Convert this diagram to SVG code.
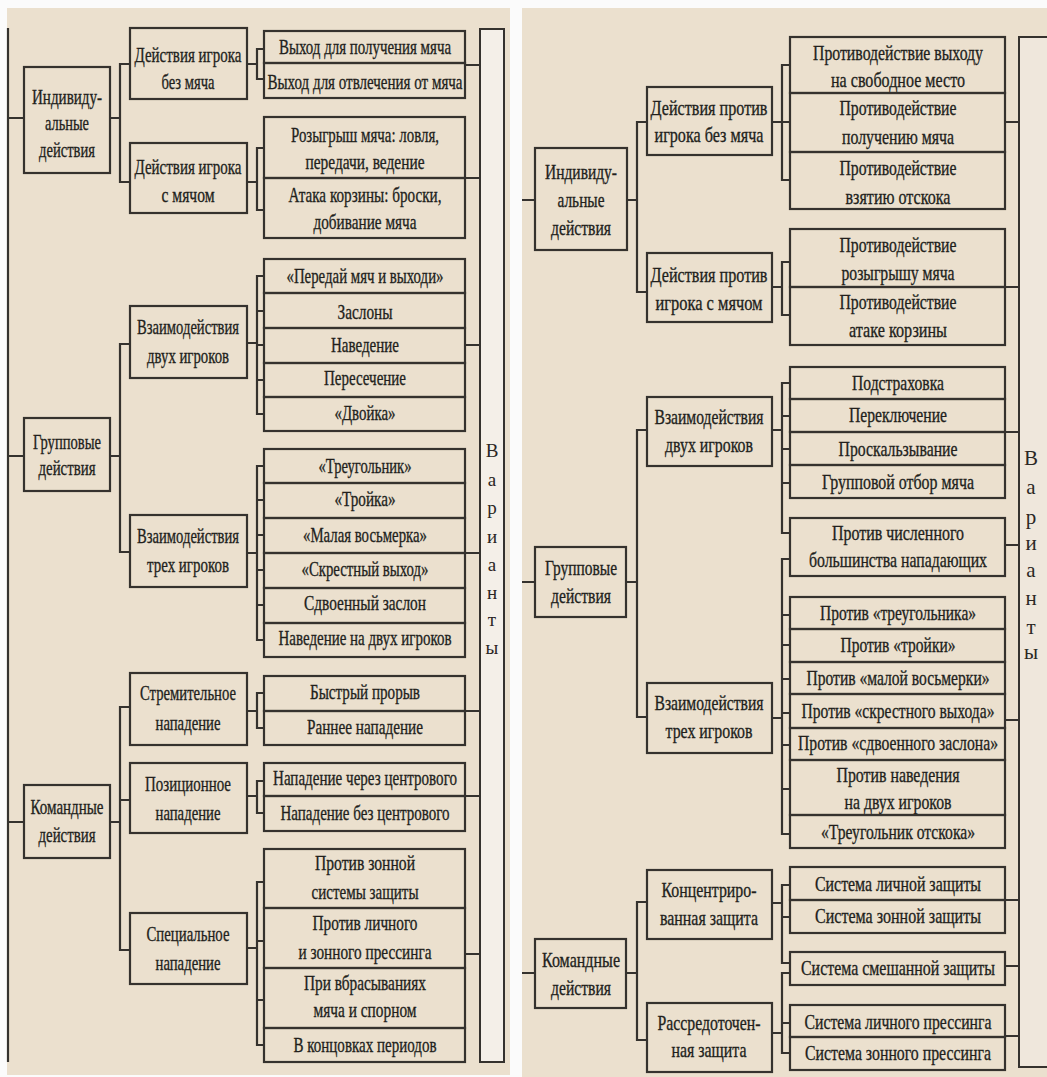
<svg xmlns="http://www.w3.org/2000/svg" width="1047" height="1077" viewBox="0 0 1047 1077">
<style>
.paper{fill:#ebe0ce}
.box{fill:none;stroke:#35322e;stroke-width:2.2}
.c{fill:none;stroke:#35322e;stroke-width:2.2}
.t{font-family:"Liberation Serif","Times New Roman",serif;font-size:22px;text-anchor:middle;fill:#221f1c;stroke:#221f1c;stroke-width:0.35}
.v{font-family:"Liberation Serif","Times New Roman",serif;text-anchor:middle;fill:#2b2724}
</style>
<rect x="0" y="0" width="1047" height="1077" fill="#fbfbfb"/>
<rect class="paper" x="7" y="8" width="503" height="1067"/>
<rect class="paper" x="522" y="8" width="525" height="1069"/>

<g id="connectors">
<path class="c" d="M8 28 V1062 M8 118 H24 M8 456 H24 M8 822 H24"/>
<path class="c" d="M110 118 H120 M130 64 H120 V182 H130"/>
<path class="c" d="M110 456 H120 M130 344 H120 V552 H130"/>
<path class="c" d="M110 822 H120 M130 707 H120 V950 H130 M120 800 H130"/>
<path class="c" d="M247 64 H257 M264 49 H257 V79 H264"/>
<path class="c" d="M247 182 H257 M264 148 H257 V210 H264"/>
<path class="c" d="M247 343 H257 M264 276 H257 V414 H264 M257 311 H264 M257 345 H264 M257 380 H264"/>
<path class="c" d="M247 553 H257 M264 466 H257 V640 H264 M257 500 H264 M257 535 H264 M257 570 H264 M257 605 H264"/>
<path class="c" d="M247 711 H257 M264 693 H257 V728 H264"/>
<path class="c" d="M247 796 H257 M264 781 H257 V813 H264"/>
<path class="c" d="M247 948 H257 M264 882 H257 V1045 H264 M257 941 H264 M257 1000 H264"/>
<path class="c" d="M465 65 H480 M465 178 H480 M465 345 H480 M465 553 H480 M465 711 H480 M465 796 H480 M465 954 H480"/>
<path class="c" d="M522 200 H535 M522 582 H535 M522 973 H535"/>
<path class="c" d="M627 200 H637 M647 122 H637 V292 H647"/>
<path class="c" d="M626 582 H637 M647 430 H637 V717 H647"/>
<path class="c" d="M626 973 H637 M647 902 H637 V1040 H647"/>
<path class="c" d="M772 122 H782 M790 65 H782 V180 H790 M782 122 H790"/>
<path class="c" d="M772 287 H782 M790 262 H782 V315 H790"/>
<path class="c" d="M772 430 H782 M790 383 H782 V533 H790 M782 416 H790 M782 449 H790 M782 483 H790"/>
<path class="c" d="M772 718 H782 M790 559 H782 V834 H790 M782 615 H790 M782 645 H790 M782 679 H790 M782 713 H790 M782 745 H790 M782 789 H790"/>
<path class="c" d="M772 903 H782 M790 885 H782 V963 H790 M782 917 H790"/>
<path class="c" d="M772 1033 H782 M790 973 H782 V1053 H790 M782 1023 H790"/>
<path class="c" d="M1005 122 H1019 M1005 287 H1019 M1005 432 H1019 M1005 545 H1019 M1005 720 H1019 M1005 900 H1019 M1005 966 H1019 M1005 1036 H1019"/>
</g>

<!-- LEFT PANEL -->
<g id="L_variants">
<rect x="480" y="29" width="24" height="1033" fill="#f4efe8" stroke="#35322e" stroke-width="2"/>
<text class="v" font-size="19" x="492" y="457"><tspan x="492" y="457">В</tspan><tspan x="492" y="486">а</tspan><tspan x="492" y="514">р</tspan><tspan x="492" y="543">и</tspan><tspan x="492" y="571">а</tspan><tspan x="492" y="599">н</tspan><tspan x="492" y="626">т</tspan><tspan x="492" y="654">ы</tspan></text>
</g>
<g id="L_ind"><rect class="box" x="24" y="67" width="86" height="106"/>
<text class="t" x="67" y="104" textLength="70" lengthAdjust="spacingAndGlyphs">Индивиду-</text>
<text class="t" x="67" y="130" textLength="44" lengthAdjust="spacingAndGlyphs">альные</text>
<text class="t" x="67" y="157" textLength="56" lengthAdjust="spacingAndGlyphs">действия</text></g>
<g id="L_grp"><rect class="box" x="24" y="418" width="86" height="73"/>
<text class="t" x="67" y="449" textLength="68" lengthAdjust="spacingAndGlyphs">Групповые</text>
<text class="t" x="67" y="475" textLength="57" lengthAdjust="spacingAndGlyphs">действия</text></g>
<g id="L_cmd"><rect class="box" x="24" y="785" width="86" height="73"/>
<text class="t" x="67" y="814" textLength="73" lengthAdjust="spacingAndGlyphs">Командные</text>
<text class="t" x="67" y="842" textLength="57" lengthAdjust="spacingAndGlyphs">действия</text></g>

<g id="L_m1"><rect class="box" x="130" y="28" width="117" height="71"/>
<text class="t" x="188" y="62" textLength="107" lengthAdjust="spacingAndGlyphs">Действия игрока</text>
<text class="t" x="188" y="89" textLength="53" lengthAdjust="spacingAndGlyphs">без мяча</text></g>
<g id="L_m2"><rect class="box" x="130" y="143" width="117" height="70"/>
<text class="t" x="188" y="174" textLength="107" lengthAdjust="spacingAndGlyphs">Действия игрока</text>
<text class="t" x="188" y="202" textLength="53" lengthAdjust="spacingAndGlyphs">с мячом</text></g>
<g id="L_m3"><rect class="box" x="130" y="306" width="117" height="72"/>
<text class="t" x="188" y="334" textLength="102" lengthAdjust="spacingAndGlyphs">Взаимодействия</text>
<text class="t" x="188" y="363" textLength="82" lengthAdjust="spacingAndGlyphs">двух игроков</text></g>
<g id="L_m4"><rect class="box" x="130" y="515" width="117" height="72"/>
<text class="t" x="188" y="543" textLength="102" lengthAdjust="spacingAndGlyphs">Взаимодействия</text>
<text class="t" x="188" y="572" textLength="82" lengthAdjust="spacingAndGlyphs">трех игроков</text></g>
<g id="L_m5"><rect class="box" x="130" y="673" width="117" height="72"/>
<text class="t" x="188" y="700" textLength="96" lengthAdjust="spacingAndGlyphs">Стремительное</text>
<text class="t" x="188" y="730" textLength="65" lengthAdjust="spacingAndGlyphs">нападение</text></g>
<g id="L_m6"><rect class="box" x="130" y="763" width="117" height="70"/>
<text class="t" x="188" y="791" textLength="86" lengthAdjust="spacingAndGlyphs">Позиционное</text>
<text class="t" x="188" y="820" textLength="65" lengthAdjust="spacingAndGlyphs">нападение</text></g>
<g id="L_m7"><rect class="box" x="130" y="913" width="117" height="71"/>
<text class="t" x="188" y="941" textLength="83" lengthAdjust="spacingAndGlyphs">Специальное</text>
<text class="t" x="188" y="970" textLength="65" lengthAdjust="spacingAndGlyphs">нападение</text></g>

<g id="L_l1"><rect class="box" x="264" y="31" width="201" height="32"/>
<text class="t" x="365" y="54" textLength="172" lengthAdjust="spacingAndGlyphs">Выход для получения мяча</text></g>
<g id="L_l2"><rect class="box" x="264" y="63" width="201" height="35"/>
<text class="t" x="365" y="89" textLength="195" lengthAdjust="spacingAndGlyphs">Выход для отвлечения от мяча</text></g>
<g id="L_l3"><rect class="box" x="264" y="117" width="201" height="61"/>
<text class="t" x="365" y="142" textLength="148" lengthAdjust="spacingAndGlyphs">Розыгрыш мяча: ловля,</text>
<text class="t" x="365" y="169" textLength="119" lengthAdjust="spacingAndGlyphs">передачи, ведение</text></g>
<g id="L_l4"><rect class="box" x="264" y="178" width="201" height="60"/>
<text class="t" x="365" y="202" textLength="153" lengthAdjust="spacingAndGlyphs">Атака корзины: броски,</text>
<text class="t" x="365" y="229" textLength="103" lengthAdjust="spacingAndGlyphs">добивание мяча</text></g>
<g id="L_l5"><rect class="box" x="264" y="259" width="201" height="34"/>
<text class="t" x="365" y="283" textLength="157" lengthAdjust="spacingAndGlyphs">«Передай мяч и выходи»</text></g>
<g id="L_l6"><rect class="box" x="264" y="293" width="201" height="35"/>
<text class="t" x="365" y="319" textLength="55" lengthAdjust="spacingAndGlyphs">Заслоны</text></g>
<g id="L_l7"><rect class="box" x="264" y="328" width="201" height="35"/>
<text class="t" x="365" y="352" textLength="68" lengthAdjust="spacingAndGlyphs">Наведение</text></g>
<g id="L_l8"><rect class="box" x="264" y="363" width="201" height="34"/>
<text class="t" x="365" y="385" textLength="82" lengthAdjust="spacingAndGlyphs">Пересечение</text></g>
<g id="L_l9"><rect class="box" x="264" y="397" width="201" height="34"/>
<text class="t" x="365" y="420" textLength="61" lengthAdjust="spacingAndGlyphs">«Двойка»</text></g>
<g id="L_l10"><rect class="box" x="264" y="449" width="201" height="34"/>
<text class="t" x="365" y="473" textLength="93" lengthAdjust="spacingAndGlyphs">«Треугольник»</text></g>
<g id="L_l11"><rect class="box" x="264" y="483" width="201" height="35"/>
<text class="t" x="365" y="506" textLength="61" lengthAdjust="spacingAndGlyphs">«Тройка»</text></g>
<g id="L_l12"><rect class="box" x="264" y="518" width="201" height="35"/>
<text class="t" x="365" y="542" textLength="124" lengthAdjust="spacingAndGlyphs">«Малая восьмерка»</text></g>
<g id="L_l13"><rect class="box" x="264" y="553" width="201" height="35"/>
<text class="t" x="365" y="576" textLength="127" lengthAdjust="spacingAndGlyphs">«Скрестный выход»</text></g>
<g id="L_l14"><rect class="box" x="264" y="588" width="201" height="35"/>
<text class="t" x="365" y="610" textLength="122" lengthAdjust="spacingAndGlyphs">Сдвоенный заслон</text></g>
<g id="L_l15"><rect class="box" x="264" y="623" width="201" height="34"/>
<text class="t" x="365" y="645" textLength="173" lengthAdjust="spacingAndGlyphs">Наведение на двух игроков</text></g>
<g id="L_l16"><rect class="box" x="264" y="676" width="201" height="35"/>
<text class="t" x="365" y="699" textLength="110" lengthAdjust="spacingAndGlyphs">Быстрый прорыв</text></g>
<g id="L_l17"><rect class="box" x="264" y="711" width="201" height="34"/>
<text class="t" x="365" y="734" textLength="116" lengthAdjust="spacingAndGlyphs">Раннее нападение</text></g>
<g id="L_l18"><rect class="box" x="264" y="763" width="201" height="33"/>
<text class="t" x="365" y="785" textLength="184" lengthAdjust="spacingAndGlyphs">Нападение через центрового</text></g>
<g id="L_l19"><rect class="box" x="264" y="796" width="201" height="35"/>
<text class="t" x="365" y="820" textLength="169" lengthAdjust="spacingAndGlyphs">Нападение без центрового</text></g>
<g id="L_l20"><rect class="box" x="264" y="849" width="201" height="59"/>
<text class="t" x="365" y="870" textLength="100" lengthAdjust="spacingAndGlyphs">Против зонной</text>
<text class="t" x="365" y="899" textLength="107" lengthAdjust="spacingAndGlyphs">системы защиты</text></g>
<g id="L_l21"><rect class="box" x="264" y="908" width="201" height="60"/>
<text class="t" x="365" y="930" textLength="105" lengthAdjust="spacingAndGlyphs">Против личного</text>
<text class="t" x="365" y="959" textLength="133" lengthAdjust="spacingAndGlyphs">и зонного прессинга</text></g>
<g id="L_l22"><rect class="box" x="264" y="968" width="201" height="60"/>
<text class="t" x="365" y="990" textLength="122" lengthAdjust="spacingAndGlyphs">При вбрасываниях</text>
<text class="t" x="365" y="1017" textLength="103" lengthAdjust="spacingAndGlyphs">мяча и спорном</text></g>
<g id="L_l23"><rect class="box" x="264" y="1028" width="201" height="34"/>
<text class="t" x="365" y="1052" textLength="143" lengthAdjust="spacingAndGlyphs">В концовках периодов</text></g>

<!-- RIGHT PANEL -->
<g id="R_variants">
<path d="M1050 37 H1019 V1067 H1050" fill="#efe7dc" stroke="#35322e" stroke-width="2"/>
<text class="v" font-size="21" x="1031" y="465"><tspan x="1031" y="465">В</tspan><tspan x="1031" y="494">а</tspan><tspan x="1031" y="524">р</tspan><tspan x="1031" y="550">и</tspan><tspan x="1031" y="577">а</tspan><tspan x="1031" y="605">н</tspan><tspan x="1031" y="634">т</tspan><tspan x="1031" y="659">ы</tspan></text>
</g>
<g id="R_ind"><rect class="box" x="535" y="148" width="92" height="102"/>
<text class="t" x="581" y="179" textLength="72" lengthAdjust="spacingAndGlyphs">Индивиду-</text>
<text class="t" x="581" y="207" textLength="47" lengthAdjust="spacingAndGlyphs">альные</text>
<text class="t" x="581" y="235" textLength="60" lengthAdjust="spacingAndGlyphs">действия</text></g>
<g id="R_grp"><rect class="box" x="535" y="547" width="91" height="70"/>
<text class="t" x="581" y="575" textLength="72" lengthAdjust="spacingAndGlyphs">Групповые</text>
<text class="t" x="581" y="603" textLength="60" lengthAdjust="spacingAndGlyphs">действия</text></g>
<g id="R_cmd"><rect class="box" x="535" y="939" width="91" height="69"/>
<text class="t" x="581" y="967" textLength="78" lengthAdjust="spacingAndGlyphs">Командные</text>
<text class="t" x="581" y="995" textLength="60" lengthAdjust="spacingAndGlyphs">действия</text></g>

<g id="R_m1"><rect class="box" x="647" y="87" width="125" height="68"/>
<text class="t" x="709" y="115" textLength="117" lengthAdjust="spacingAndGlyphs">Действия против</text>
<text class="t" x="709" y="142" textLength="109" lengthAdjust="spacingAndGlyphs">игрока без мяча</text></g>
<g id="R_m2"><rect class="box" x="647" y="253" width="125" height="69"/>
<text class="t" x="709" y="282" textLength="117" lengthAdjust="spacingAndGlyphs">Действия против</text>
<text class="t" x="709" y="310" textLength="107" lengthAdjust="spacingAndGlyphs">игрока с мячом</text></g>
<g id="R_m3"><rect class="box" x="647" y="397" width="125" height="69"/>
<text class="t" x="709" y="424" textLength="109" lengthAdjust="spacingAndGlyphs">Взаимодействия</text>
<text class="t" x="709" y="452" textLength="88" lengthAdjust="spacingAndGlyphs">двух игроков</text></g>
<g id="R_m4"><rect class="box" x="647" y="683" width="125" height="70"/>
<text class="t" x="709" y="710" textLength="109" lengthAdjust="spacingAndGlyphs">Взаимодействия</text>
<text class="t" x="709" y="738" textLength="87" lengthAdjust="spacingAndGlyphs">трех игроков</text></g>
<g id="R_m5"><rect class="box" x="647" y="870" width="125" height="69"/>
<text class="t" x="709" y="897" textLength="95" lengthAdjust="spacingAndGlyphs">Концентриро-</text>
<text class="t" x="709" y="925" textLength="98" lengthAdjust="spacingAndGlyphs">ванная защита</text></g>
<g id="R_m6"><rect class="box" x="647" y="1003" width="125" height="69"/>
<text class="t" x="709" y="1030" textLength="103" lengthAdjust="spacingAndGlyphs">Рассредоточен-</text>
<text class="t" x="709" y="1057" textLength="75" lengthAdjust="spacingAndGlyphs">ная защита</text></g>

<g id="R_l1"><rect class="box" x="790" y="37" width="215" height="56"/>
<text class="t" x="898" y="60" textLength="170" lengthAdjust="spacingAndGlyphs">Противодействие выходу</text>
<text class="t" x="898" y="87" textLength="134" lengthAdjust="spacingAndGlyphs">на свободное место</text></g>
<g id="R_l2"><rect class="box" x="790" y="93" width="215" height="59"/>
<text class="t" x="898" y="115" textLength="117" lengthAdjust="spacingAndGlyphs">Противодействие</text>
<text class="t" x="898" y="144" textLength="112" lengthAdjust="spacingAndGlyphs">получению мяча</text></g>
<g id="R_l3"><rect class="box" x="790" y="152" width="215" height="57"/>
<text class="t" x="898" y="175" textLength="117" lengthAdjust="spacingAndGlyphs">Противодействие</text>
<text class="t" x="898" y="204" textLength="105" lengthAdjust="spacingAndGlyphs">взятию отскока</text></g>
<g id="R_l4"><rect class="box" x="790" y="229" width="215" height="58"/>
<text class="t" x="898" y="252" textLength="117" lengthAdjust="spacingAndGlyphs">Противодействие</text>
<text class="t" x="898" y="280" textLength="113" lengthAdjust="spacingAndGlyphs">розыгрышу мяча</text></g>
<g id="R_l5"><rect class="box" x="790" y="287" width="215" height="58"/>
<text class="t" x="898" y="309" textLength="117" lengthAdjust="spacingAndGlyphs">Противодействие</text>
<text class="t" x="898" y="337" textLength="98" lengthAdjust="spacingAndGlyphs">атаке корзины</text></g>
<g id="R_l6"><rect class="box" x="790" y="367" width="215" height="32"/>
<text class="t" x="898" y="390" textLength="92" lengthAdjust="spacingAndGlyphs">Подстраховка</text></g>
<g id="R_l7"><rect class="box" x="790" y="399" width="215" height="33"/>
<text class="t" x="898" y="422" textLength="98" lengthAdjust="spacingAndGlyphs">Переключение</text></g>
<g id="R_l8"><rect class="box" x="790" y="432" width="215" height="33"/>
<text class="t" x="898" y="456" textLength="119" lengthAdjust="spacingAndGlyphs">Проскальзывание</text></g>
<g id="R_l9"><rect class="box" x="790" y="465" width="215" height="33"/>
<text class="t" x="898" y="489" textLength="152" lengthAdjust="spacingAndGlyphs">Групповой отбор мяча</text></g>
<g id="R_l10"><rect class="box" x="790" y="518" width="215" height="58"/>
<text class="t" x="898" y="540" textLength="132" lengthAdjust="spacingAndGlyphs">Против численного</text>
<text class="t" x="898" y="567" textLength="178" lengthAdjust="spacingAndGlyphs">большинства нападающих</text></g>
<g id="R_l11"><rect class="box" x="790" y="597" width="215" height="32"/>
<text class="t" x="898" y="620" textLength="156" lengthAdjust="spacingAndGlyphs">Против «треугольника»</text></g>
<g id="R_l12"><rect class="box" x="790" y="629" width="215" height="33"/>
<text class="t" x="898" y="652" textLength="115" lengthAdjust="spacingAndGlyphs">Против «тройки»</text></g>
<g id="R_l13"><rect class="box" x="790" y="662" width="215" height="32"/>
<text class="t" x="898" y="685" textLength="183" lengthAdjust="spacingAndGlyphs">Против «малой восьмерки»</text></g>
<g id="R_l14"><rect class="box" x="790" y="694" width="215" height="34"/>
<text class="t" x="898" y="718" textLength="193" lengthAdjust="spacingAndGlyphs">Против «скрестного выхода»</text></g>
<g id="R_l15"><rect class="box" x="790" y="728" width="215" height="32"/>
<text class="t" x="898" y="750" textLength="200" lengthAdjust="spacingAndGlyphs">Против «сдвоенного заслона»</text></g>
<g id="R_l16"><rect class="box" x="790" y="760" width="215" height="55"/>
<text class="t" x="898" y="782" textLength="123" lengthAdjust="spacingAndGlyphs">Против наведения</text>
<text class="t" x="898" y="809" textLength="107" lengthAdjust="spacingAndGlyphs">на двух игроков</text></g>
<g id="R_l17"><rect class="box" x="790" y="815" width="215" height="33"/>
<text class="t" x="898" y="839" textLength="154" lengthAdjust="spacingAndGlyphs">«Треугольник отскока»</text></g>
<g id="R_l18"><rect class="box" x="790" y="867" width="215" height="33"/>
<text class="t" x="898" y="891" textLength="166" lengthAdjust="spacingAndGlyphs">Система личной защиты</text></g>
<g id="R_l19"><rect class="box" x="790" y="900" width="215" height="33"/>
<text class="t" x="898" y="923" textLength="166" lengthAdjust="spacingAndGlyphs">Система зонной защиты</text></g>
<g id="R_l20"><rect class="box" x="790" y="952" width="215" height="33"/>
<text class="t" x="898" y="975" textLength="194" lengthAdjust="spacingAndGlyphs">Система смешанной защиты</text></g>
<g id="R_l21"><rect class="box" x="790" y="1005" width="215" height="32"/>
<text class="t" x="898" y="1029" textLength="187" lengthAdjust="spacingAndGlyphs">Система личного прессинга</text></g>
<g id="R_l22"><rect class="box" x="790" y="1037" width="215" height="33"/>
<text class="t" x="898" y="1060" textLength="186" lengthAdjust="spacingAndGlyphs">Система зонного прессинга</text></g>
</svg>
